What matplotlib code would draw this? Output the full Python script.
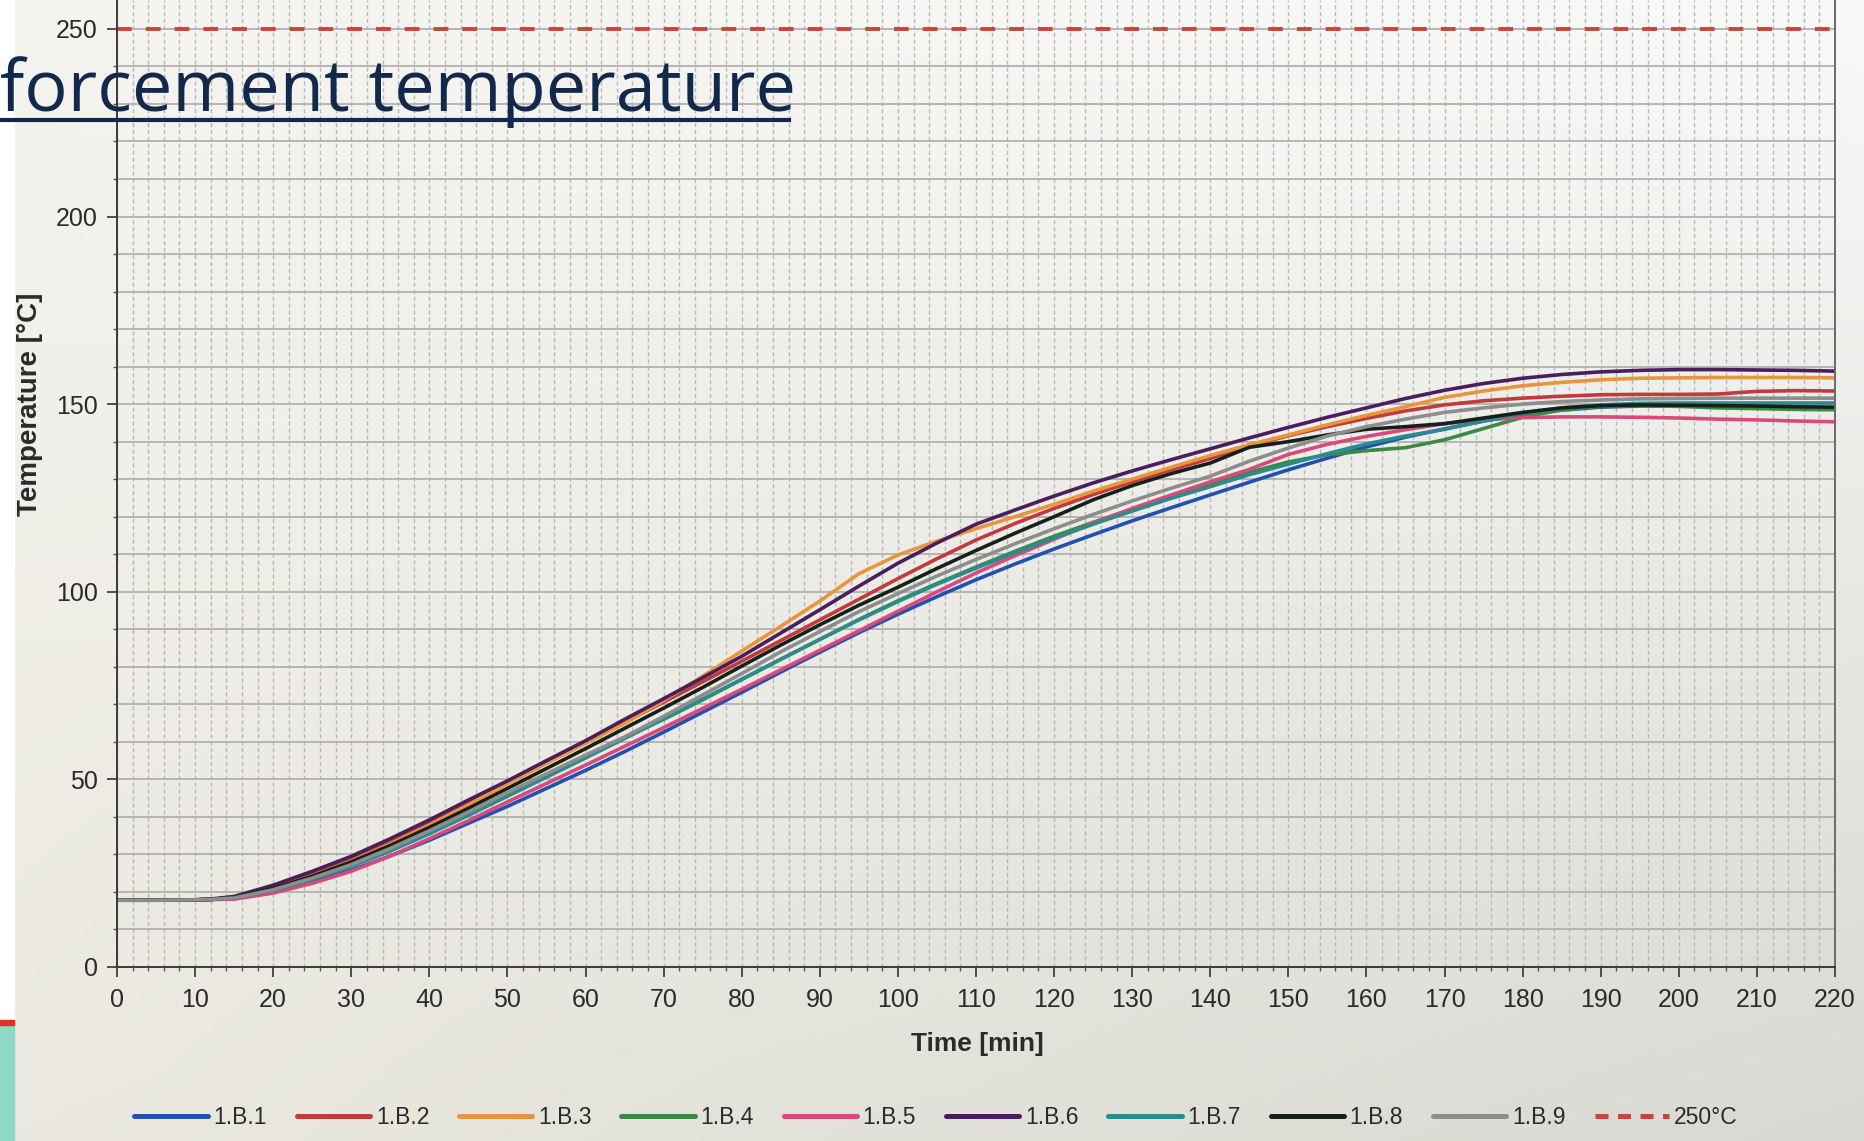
import numpy as np
import matplotlib
matplotlib.use("Agg")
import matplotlib.pyplot as plt
from matplotlib.patches import Rectangle
from matplotlib.lines import Line2D
from matplotlib.ticker import MultipleLocator
from matplotlib.colors import to_rgb

# ---------------- data ----------------
time_min = [0, 5, 10, 12, 15, 20, 25, 30, 35, 40, 45, 50, 55, 60, 65, 70, 75, 80, 85, 90,
            95, 100, 105, 110, 115, 120, 125, 130, 135, 140, 145, 150, 155, 160, 165, 170,
            175, 180, 185, 190, 195, 200, 205, 210, 215, 220]

b1 = [17.8, 17.8, 17.9, 18.0, 18.2, 20.0, 22.6, 25.8, 29.6, 33.8, 38.3, 42.8, 47.6, 52.4,
      57.4, 62.6, 67.9, 73.2, 78.6, 83.9, 89.1, 94.0, 98.7, 103.2, 107.4, 111.4, 115.2,
      118.9, 122.4, 125.8, 129.2, 132.5, 135.6, 138.6, 141.2, 143.4, 145.5, 147.2, 148.4,
      149.2, 149.5, 149.5, 149.4, 149.3, 149.1, 149.0]
b2 = [17.8, 17.8, 17.9, 18.0, 18.6, 21.3, 24.8, 28.7, 33.3, 38.3, 43.6, 49.0, 54.4, 59.8,
      65.2, 70.6, 76.0, 81.5, 87.0, 92.5, 98.0, 103.5, 108.8, 113.8, 118.2, 122.2, 125.9,
      129.3, 132.5, 135.5, 138.8, 141.6, 144.0, 146.2, 148.2, 149.8, 150.9, 151.6, 152.1,
      152.5, 152.6, 152.6, 152.7, 153.4, 153.6, 153.5]
b3 = [17.8, 17.8, 17.9, 18.0, 18.5, 21.0, 24.3, 28.2, 32.8, 37.8, 43.2, 48.8, 54.3, 59.6,
      64.9, 71.0, 77.5, 84.2, 90.8, 97.5, 104.8, 109.8, 113.5, 116.8, 120.0, 123.3, 126.8,
      130.0, 133.2, 136.3, 139.2, 141.8, 144.5, 147.0, 149.3, 151.8, 153.5, 154.9, 155.8,
      156.5, 156.9, 157.0, 157.1, 157.1, 157.1, 157.0]
b4 = [17.8, 17.8, 17.9, 18.0, 18.4, 20.5, 23.5, 27.0, 31.2, 35.8, 40.8, 46.0, 51.1, 56.2,
      61.2, 66.0, 71.2, 76.6, 82.0, 87.3, 92.6, 97.6, 102.2, 106.6, 110.8, 114.8, 118.5,
      122.0, 125.3, 128.5, 131.8, 134.6, 136.5, 137.6, 138.4, 140.5, 143.5, 146.5, 148.5,
      149.4, 149.6, 149.4, 149.0, 148.8, 148.6, 148.5]
b5 = [17.8, 17.8, 17.9, 18.0, 18.1, 19.7, 22.3, 25.5, 29.6, 34.2, 39.0, 44.0, 48.9, 53.8,
      58.8, 63.8, 68.9, 74.0, 79.2, 84.4, 89.6, 94.8, 100.0, 105.0, 109.6, 114.0, 118.3,
      122.2, 125.8, 129.3, 132.6, 136.6, 139.3, 141.4, 143.2, 144.8, 145.8, 146.4, 146.6,
      146.6, 146.5, 146.3, 146.0, 145.8, 145.5, 145.3]
b6 = [17.8, 17.8, 17.9, 18.1, 18.8, 21.8, 25.5, 29.5, 34.2, 39.2, 44.5, 49.6, 55.0, 60.3,
      66.0, 71.5, 77.1, 82.8, 89.0, 95.2, 101.5, 107.6, 113.0, 118.0, 121.8, 125.5, 129.0,
      132.2, 135.2, 138.1, 141.0, 143.8, 146.5, 149.0, 151.5, 153.7, 155.5, 156.9, 157.9,
      158.6, 159.0, 159.2, 159.2, 159.1, 159.0, 158.8]
b7 = [17.8, 17.8, 17.9, 18.0, 18.4, 20.4, 23.3, 26.8, 30.9, 35.5, 40.4, 45.5, 50.6, 55.7,
      60.9, 66.1, 71.4, 76.7, 82.0, 87.3, 92.5, 97.4, 102.0, 106.3, 110.4, 114.3, 118.0,
      121.5, 124.9, 128.0, 131.2, 134.0, 136.8, 139.4, 141.5, 143.3, 145.5, 147.6, 149.0,
      149.8, 150.2, 150.3, 150.3, 150.3, 150.3, 150.3]
b8 = [17.8, 17.8, 17.9, 18.0, 18.5, 20.9, 24.2, 28.0, 32.4, 37.2, 42.3, 47.6, 52.9, 58.2,
      63.6, 69.0, 74.5, 80.2, 85.8, 91.2, 96.4, 101.2, 106.2, 111.0, 115.6, 120.0, 124.5,
      128.3, 131.5, 134.3, 138.5, 140.0, 141.8, 143.3, 144.0, 144.8, 146.3, 147.8, 149.0,
      149.6, 149.8, 149.7, 149.6, 149.5, 149.3, 149.2]
b9 = [17.8, 17.8, 17.9, 18.0, 18.4, 20.6, 23.7, 27.3, 31.6, 36.3, 41.3, 46.5, 51.5, 56.5,
      61.3, 66.8, 72.5, 78.2, 84.0, 89.4, 94.7, 99.5, 104.2, 108.6, 112.8, 116.8, 120.6,
      124.2, 127.6, 130.8, 134.8, 138.3, 141.5, 144.0, 146.0, 147.8, 149.0, 150.0, 150.7,
      151.1, 151.4, 151.5, 151.6, 151.6, 151.6, 151.6]

series_names = ["1.B.1", "1.B.2", "1.B.3", "1.B.4", "1.B.5", "1.B.6", "1.B.7", "1.B.8", "1.B.9"]
series_values = [b1, b2, b3, b4, b5, b6, b7, b8, b9]
series_colors = ["#2150b0", "#c23a3c", "#e8953c", "#3b8a40", "#d9497c", "#4a1d5c",
                 "#2a8c8e", "#15201b", "#8d8d8d"]
limit_value = 250
limit_label = "250°C"

x_ticks = list(range(0, 221, 10))
y_ticks = [0, 50, 100, 150, 200, 250]

# ---------------- figure ----------------
W, H = 1865, 1141
fig = plt.figure(figsize=(W / 100, H / 100), dpi=100)

# background gradient (photographed paper)
bg = fig.add_axes([0, 0, 1, 1], zorder=-10)
tl, tr = np.array(to_rgb("#f4f3ef")), np.array(to_rgb("#f9f9f8"))
bl, br = np.array(to_rgb("#ebe9df")), np.array(to_rgb("#d8d9d3"))
u = np.linspace(0, 1, 200)[None, :, None]
v = np.linspace(0, 1, 200)[:, None, None]
img = (1 - v) * ((1 - u) * tl + u * tr) + v * ((1 - u) * bl + u * br)
bg.imshow(img, aspect="auto", extent=[0, 1, 0, 1], origin="upper")
bg.set_xlim(0, 1)
bg.set_ylim(0, 1)
bg.axis("off")

# left strip: white, red line, teal block
fig.patches.append(Rectangle((0, (H - 1021) / H), 14 / W, 1021 / H, transform=fig.transFigure,
                             color="white", zorder=-5))
fig.patches.append(Rectangle((0, 0), 14 / W, (H - 1025) / H, transform=fig.transFigure,
                             color="#8fd8c8", zorder=-5))
fig.patches.append(Rectangle((0, (H - 1025) / H), 14 / W, 5 / H, transform=fig.transFigure,
                             color="#e0321e", zorder=-4))

x0, x1 = 117, 1835
y_bottom = 967
ax = fig.add_axes([x0 / W, (H - y_bottom) / H, (x1 - x0) / W, y_bottom / H])
ax.set_facecolor("none")
ax.set_xlim(0, 220)
ax.set_ylim(0, 257.7)

# grid
ax.xaxis.set_major_locator(MultipleLocator(10))
ax.xaxis.set_minor_locator(MultipleLocator(2))
ax.yaxis.set_major_locator(MultipleLocator(50))
ax.yaxis.set_minor_locator(MultipleLocator(10))
ax.grid(which="both", axis="x", color="#b8b8b8", linewidth=1.0, linestyle=(0, (3, 2)))
ax.grid(which="both", axis="y", color="#b0b0b0", linewidth=1.3, linestyle="-")
ax.set_axisbelow(True)

for name, vals, col in zip(series_names, series_values, series_colors):
    ax.plot(time_min, vals, color=col, linewidth=2.6, label=name, solid_capstyle="round")

ax.plot([0, 220], [limit_value, limit_value], color="#c8453a", linewidth=2.8,
        dashes=(3.8, 3.6), label=limit_label)

ax.set_xticks(x_ticks)
ax.set_yticks(y_ticks)
ax.tick_params(axis="both", which="major", labelsize=18, colors="#333333",
               labelcolor="#2a2a2a", length=7, width=1.2, direction="out")
ax.tick_params(axis="x", which="major", pad=8)
ax.tick_params(axis="y", which="major", pad=7)
ax.tick_params(axis="both", which="minor", length=3, width=1.0, color="#555555")
for lab in ax.get_xticklabels() + ax.get_yticklabels():
    lab.set_fontfamily("Liberation Sans")

for side in ["left", "bottom"]:
    ax.spines[side].set_color("#3a3a3a")
    ax.spines[side].set_linewidth(1.4)
ax.spines["right"].set_color("#6a6a6a")
ax.spines["right"].set_linewidth(1.4)
ax.spines["top"].set_visible(False)

# axis labels
fig.text(977 / W, (H - 1044) / H, "Time [min]", ha="center", va="center",
         fontsize=19, fontweight="bold", family="Liberation Sans", color="#2a2a2a")
fig.text(30 / W, (H - 404) / H, "Temperature [°C]", ha="center", va="center",
         rotation=90, fontsize=20, fontweight="bold", family="Liberation Sans", color="#2a2a2a")

# legend
handles, labels = ax.get_legend_handles_labels()
leg = fig.legend(handles, labels, loc="center", bbox_to_anchor=(0.502, (H - 1118) / H),
                 ncol=10, frameon=False, handlelength=3.2, handletextpad=0.25,
                 columnspacing=1.3, prop={"family": "Liberation Sans", "size": 16.5})
for t in leg.get_texts():
    t.set_color("#2a2a2a")
for ln in leg.get_lines():
    ln.set_linewidth(3.6)
leg.get_lines()[-1].set_dashes((2.6, 1.9))

# overlaid slide title fragment
fig.text(0, (H - 111) / H, "forcement temperature", ha="left", va="baseline",
         fontsize=52, family="Open Sans", color="#13294b")
fig.add_artist(Line2D([0, 789 / W], [(H - 120) / H, (H - 120) / H], transform=fig.transFigure,
                      color="#13294b", linewidth=3))

fig.savefig("out.png", dpi=100)
